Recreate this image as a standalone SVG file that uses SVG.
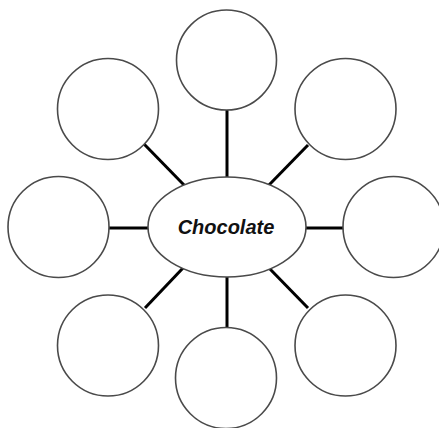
<svg xmlns="http://www.w3.org/2000/svg" width="439" height="428" viewBox="0 0 439 428">
<style>
.node{fill:#fff;stroke:#4a4a4a;stroke-width:1.6}
.link{stroke:#000;stroke-width:3;stroke-linecap:butt}
.label{font-family:"Liberation Sans",Arial,sans-serif;font-weight:bold;font-style:italic;font-size:20px;fill:#111}
</style>
<rect width="439" height="428" fill="#fff"/>
<g id="connectors">
<line class="link" x1="227" y1="110" x2="227" y2="178"/>
<line class="link" x1="144" y1="144" x2="184" y2="185"/>
<line class="link" x1="308" y1="145" x2="269" y2="185"/>
<line class="link" x1="109" y1="228" x2="149" y2="228"/>
<line class="link" x1="305" y1="228" x2="344" y2="228"/>
<line class="link" x1="183" y1="268" x2="145" y2="308"/>
<line class="link" x1="227" y1="276" x2="227" y2="329"/>
<line class="link" x1="269" y1="268" x2="308" y2="308"/>
</g>
<g id="n-top"><circle class="node" cx="226.5" cy="60" r="50"/></g>
<g id="n-topleft"><circle class="node" cx="108" cy="109" r="50.5"/></g>
<g id="n-topright"><circle class="node" cx="345.5" cy="109" r="50.5"/></g>
<g id="n-left"><circle class="node" cx="58.5" cy="227" r="50.5"/></g>
<g id="n-right"><circle class="node" cx="393.5" cy="227" r="50.5"/></g>
<g id="n-bottomleft"><circle class="node" cx="108" cy="345.5" r="50.5"/></g>
<g id="n-bottom"><circle class="node" cx="226" cy="378" r="50.5"/></g>
<g id="n-bottomright"><circle class="node" cx="345.5" cy="345.5" r="50.5"/></g>
<g id="n-center">
<ellipse class="node" cx="227" cy="227" rx="79" ry="50"/>
<text class="label" x="226" y="234" text-anchor="middle">Chocolate</text>
</g>
</svg>
